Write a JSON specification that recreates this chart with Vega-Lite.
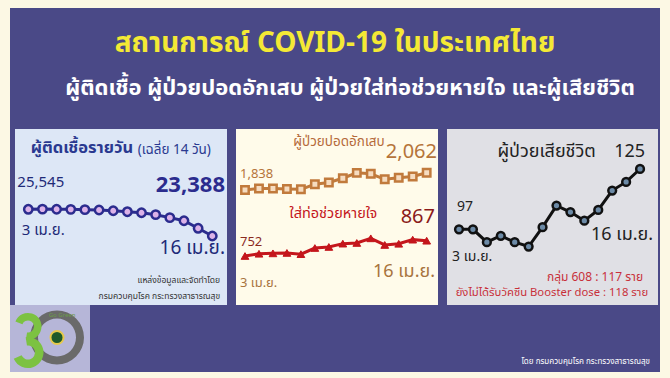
{
  "$schema": "https://vega.github.io/schema/vega-lite/v6.json",
  "background": "#fcf8e4",
  "padding": {"left": 10, "right": 10, "top": 8, "bottom": 6},
  "spacing": 0,
  "config": {
    "view": {"stroke": null},
    "axis": {"disable": true},
    "font": "Noto Sans Thai, Noto Sans, sans-serif"
  },
  "datasets": {
    "infect": [
      {"d": 3, "date": "3 เม.ย.", "v": 25545},
      {"d": 4, "date": "4 เม.ย.", "v": 25560},
      {"d": 5, "date": "5 เม.ย.", "v": 25548},
      {"d": 6, "date": "6 เม.ย.", "v": 25540},
      {"d": 7, "date": "7 เม.ย.", "v": 25515},
      {"d": 8, "date": "8 เม.ย.", "v": 25490},
      {"d": 9, "date": "9 เม.ย.", "v": 25430},
      {"d": 10, "date": "10 เม.ย.", "v": 25350},
      {"d": 11, "date": "11 เม.ย.", "v": 25265},
      {"d": 12, "date": "12 เม.ย.", "v": 25110},
      {"d": 13, "date": "13 เม.ย.", "v": 24870},
      {"d": 14, "date": "14 เม.ย.", "v": 24620},
      {"d": 15, "date": "15 เม.ย.", "v": 24010},
      {"d": 16, "date": "16 เม.ย.", "v": 23388}
    ],
    "hosp": [
      {"d": 3, "date": "3 เม.ย.", "p": 1838, "i": 752},
      {"d": 4, "date": "4 เม.ย.", "p": 1857, "i": 769},
      {"d": 5, "date": "5 เม.ย.", "p": 1857, "i": 772},
      {"d": 6, "date": "6 เม.ย.", "p": 1851, "i": 775},
      {"d": 7, "date": "7 เม.ย.", "p": 1847, "i": 766},
      {"d": 8, "date": "8 เม.ย.", "p": 1912, "i": 812},
      {"d": 9, "date": "9 เม.ย.", "p": 1936, "i": 820},
      {"d": 10, "date": "10 เม.ย.", "p": 1990, "i": 845},
      {"d": 11, "date": "11 เม.ย.", "p": 2060, "i": 850},
      {"d": 12, "date": "12 เม.ย.", "p": 2048, "i": 885},
      {"d": 13, "date": "13 เม.ย.", "p": 1977, "i": 835},
      {"d": 14, "date": "14 เม.ย.", "p": 1997, "i": 844},
      {"d": 15, "date": "15 เม.ย.", "p": 2013, "i": 875},
      {"d": 16, "date": "16 เม.ย.", "p": 2062, "i": 867}
    ],
    "death": [
      {"d": 3, "date": "3 เม.ย.", "v": 97},
      {"d": 4, "date": "4 เม.ย.", "v": 97},
      {"d": 5, "date": "5 เม.ย.", "v": 91},
      {"d": 6, "date": "6 เม.ย.", "v": 94},
      {"d": 7, "date": "7 เม.ย.", "v": 91},
      {"d": 8, "date": "8 เม.ย.", "v": 89},
      {"d": 9, "date": "9 เม.ย.", "v": 98},
      {"d": 10, "date": "10 เม.ย.", "v": 108},
      {"d": 11, "date": "11 เม.ย.", "v": 105},
      {"d": 12, "date": "12 เม.ย.", "v": 101},
      {"d": 13, "date": "13 เม.ย.", "v": 106},
      {"d": 14, "date": "14 เม.ย.", "v": 115},
      {"d": 15, "date": "15 เม.ย.", "v": 119},
      {"d": 16, "date": "16 เม.ย.", "v": 125}
    ]
  },
  "vconcat": [
    {
      "width": 650,
      "height": 121,
      "view": {"fill": "#4a4987", "stroke": null},
      "data": {"values": [
        {"k": "t", "label": "สถานการณ์ COVID-19 ในประเทศไทย"},
        {"k": "s", "label": "ผู้ติดเชื้อ ผู้ป่วยปอดอักเสบ ผู้ป่วยใส่ท่อช่วยหายใจ และผู้เสียชีวิต"}
      ]},
      "layer": [
        {
          "transform": [{"filter": "datum.k == 't'"}],
          "mark": {"type": "text", "fontSize": 28, "fontWeight": "bold", "fill": "#f4e935", "baseline": "middle", "align": "center", "dy": -3},
          "encoding": {
            "y": {"field": "k", "type": "nominal", "scale": {"type": "point", "domain": ["t", "s"], "padding": 0.9}},
            "text": {"field": "label"}
          }
        },
        {
          "transform": [{"filter": "datum.k == 's'"}],
          "mark": {"type": "text", "fontSize": 22, "fontWeight": "bold", "fill": "#ffffff", "baseline": "middle", "align": "center", "dy": -2, "dx": 15},
          "encoding": {
            "y": {"field": "k", "type": "nominal", "scale": {"type": "point", "domain": ["t", "s"], "padding": 0.9}},
            "text": {"field": "label"}
          }
        }
      ]
    },
    {
      "spacing": 0,
      "bounds": "flush",
      "hconcat": [
        {
          "width": 5, "height": 176,
          "view": {"fill": "#4a4987", "stroke": null},
          "data": {"values": [{}]},
          "mark": {"type": "rect", "opacity": 0},
          "encoding": {}
        },
        {
          "width": 212, "height": 176,
          "view": {"fill": "#dde7f6", "stroke": null},
          "data": {"name": "infect"},
          "layer": [
            {
              "mark": {"type": "line", "color": "#2b2c8e", "strokeWidth": 3},
              "encoding": {
                "x": {"field": "d", "type": "quantitative", "scale": {"domain": [2.06, 17.04], "nice": false, "zero": false}},
                "y": {"field": "v", "type": "quantitative", "scale": {"domain": [17812, 32033], "nice": false, "zero": false}}
              }
            },
            {
              "mark": {"type": "point", "shape": "circle", "filled": true, "fill": "#dcb2e8", "stroke": "#2b2c8e", "strokeWidth": 2.5, "size": 70, "opacity": 1},
              "encoding": {
                "x": {"field": "d", "type": "quantitative", "scale": {"domain": [2.06, 17.04], "nice": false, "zero": false}},
                "y": {"field": "v", "type": "quantitative", "scale": {"domain": [17812, 32033], "nice": false, "zero": false}}
              }
            },
            {
              "transform": [{"filter": "datum.d == 3"}],
              "mark": {"type": "text", "align": "left", "baseline": "middle", "dx": -11, "dy": -27, "fontSize": 15, "fill": "#1e2a78"},
              "encoding": {
                "x": {"field": "d", "type": "quantitative", "scale": {"domain": [2.06, 17.04], "nice": false, "zero": false}},
                "y": {"field": "v", "type": "quantitative", "scale": {"domain": [17812, 32033], "nice": false, "zero": false}},
                "text": {"field": "v", "type": "quantitative", "format": ","}
              }
            },
            {
              "transform": [{"filter": "datum.d == 16"}],
              "mark": {"type": "text", "align": "right", "baseline": "middle", "dx": 12.7, "dy": -51, "fontSize": 22, "fontWeight": "bold", "fill": "#2b2c8e"},
              "encoding": {
                "x": {"field": "d", "type": "quantitative", "scale": {"domain": [2.06, 17.04], "nice": false, "zero": false}},
                "y": {"field": "v", "type": "quantitative", "scale": {"domain": [17812, 32033], "nice": false, "zero": false}},
                "text": {"field": "v", "type": "quantitative", "format": ","}
              }
            },
            {
              "transform": [{"filter": "datum.d == 3"}],
              "mark": {"type": "text", "align": "left", "baseline": "middle", "dx": -6.6, "dy": 20.7, "fontSize": 15, "fill": "#1e2a78"},
              "encoding": {
                "x": {"field": "d", "type": "quantitative", "scale": {"domain": [2.06, 17.04], "nice": false, "zero": false}},
                "y": {"field": "v", "type": "quantitative", "scale": {"domain": [17812, 32033], "nice": false, "zero": false}},
                "text": {"field": "date"}
              }
            },
            {
              "transform": [{"filter": "datum.d == 16"}],
              "mark": {"type": "text", "align": "right", "baseline": "middle", "dx": 12.7, "dy": 12, "fontSize": 19, "fill": "#1e2a78"},
              "encoding": {
                "x": {"field": "d", "type": "quantitative", "scale": {"domain": [2.06, 17.04], "nice": false, "zero": false}},
                "y": {"field": "v", "type": "quantitative", "scale": {"domain": [17812, 32033], "nice": false, "zero": false}},
                "text": {"field": "date"}
              }
            },
            {
              "data": {"values": [{"label": "ผู้ติดเชื้อรายวัน"}]},
              "mark": {"type": "text", "align": "left", "baseline": "middle", "fontSize": 16.5, "fontWeight": "bold", "fill": "#2a3990"},
              "encoding": {
                "x": {"datum": 3.17, "type": "quantitative", "scale": {"domain": [2.06, 17.04], "nice": false, "zero": false}},
                "y": {"datum": 30498, "type": "quantitative", "scale": {"domain": [17812, 32033], "nice": false, "zero": false}},
                "text": {"field": "label"}
              }
            },
            {
              "data": {"values": [{"label": "(เฉลี่ย 14 วัน)"}]},
              "mark": {"type": "text", "align": "left", "baseline": "middle", "fontSize": 13.5, "fill": "#2a3990"},
              "encoding": {
                "x": {"datum": 10.73, "type": "quantitative", "scale": {"domain": [2.06, 17.04], "nice": false, "zero": false}},
                "y": {"datum": 30340, "type": "quantitative", "scale": {"domain": [17812, 32033], "nice": false, "zero": false}},
                "text": {"field": "label"}
              }
            },
            {
              "data": {"values": [{"label": "แหล่งข้อมูลและจัดทำโดย"}]},
              "mark": {"type": "text", "align": "right", "baseline": "middle", "fontSize": 8.5, "fill": "#333333"},
              "encoding": {
                "x": {"datum": 16.55, "type": "quantitative", "scale": {"domain": [2.06, 17.04], "nice": false, "zero": false}},
                "y": {"datum": 19832, "type": "quantitative", "scale": {"domain": [17812, 32033], "nice": false, "zero": false}},
                "text": {"field": "label"}
              }
            },
            {
              "data": {"values": [{"label": "กรมควบคุมโรค กระทรวงสาธารณสุข"}]},
              "mark": {"type": "text", "align": "right", "baseline": "middle", "fontSize": 8.5, "fill": "#333333"},
              "encoding": {
                "x": {"datum": 16.55, "type": "quantitative", "scale": {"domain": [2.06, 17.04], "nice": false, "zero": false}},
                "y": {"datum": 18539, "type": "quantitative", "scale": {"domain": [17812, 32033], "nice": false, "zero": false}},
                "text": {"field": "label"}
              }
            }
          ]
        },
        {
          "width": 9, "height": 176,
          "view": {"fill": "#4a4987", "stroke": null},
          "data": {"values": [{}]},
          "mark": {"type": "rect", "opacity": 0},
          "encoding": {}
        },
        {
          "width": 202, "height": 176,
          "view": {"fill": "#fffbea", "stroke": null},
          "data": {"name": "hosp"},
          "resolve": {"scale": {"y": "independent"}},
          "layer": [
            {
              "mark": {"type": "line", "color": "#c17a3c", "strokeWidth": 3},
              "encoding": {
                "x": {"field": "d", "type": "quantitative", "scale": {"domain": [2.356, 16.81], "nice": false, "zero": false}},
                "y": {"field": "p", "type": "quantitative", "scale": {"domain": [349, 2628], "nice": false, "zero": false}}
              }
            },
            {
              "mark": {"type": "point", "shape": "square", "filled": true, "fill": "#f6dcc0", "stroke": "#c17a3c", "strokeWidth": 2.5, "size": 55, "opacity": 1},
              "encoding": {
                "x": {"field": "d", "type": "quantitative", "scale": {"domain": [2.356, 16.81], "nice": false, "zero": false}},
                "y": {"field": "p", "type": "quantitative", "scale": {"domain": [349, 2628], "nice": false, "zero": false}}
              }
            },
            {
              "mark": {"type": "line", "color": "#c4161c", "strokeWidth": 3},
              "encoding": {
                "x": {"field": "d", "type": "quantitative", "scale": {"domain": [2.356, 16.81], "nice": false, "zero": false}},
                "y": {"field": "i", "type": "quantitative", "scale": {"domain": [383.5, 1707], "nice": false, "zero": false}}
              }
            },
            {
              "mark": {"type": "point", "shape": "triangle-up", "filled": true, "fill": "#c4161c", "stroke": "#c4161c", "strokeWidth": 1, "size": 60, "opacity": 1},
              "encoding": {
                "x": {"field": "d", "type": "quantitative", "scale": {"domain": [2.356, 16.81], "nice": false, "zero": false}},
                "y": {"field": "i", "type": "quantitative", "scale": {"domain": [383.5, 1707], "nice": false, "zero": false}}
              }
            },
            {
              "transform": [{"filter": "datum.d == 3"}],
              "mark": {"type": "text", "align": "left", "baseline": "middle", "dx": -5, "dy": -16, "fontSize": 13, "fill": "#b5743a"},
              "encoding": {
                "x": {"field": "d", "type": "quantitative", "scale": {"domain": [2.356, 16.81], "nice": false, "zero": false}},
                "y": {"field": "p", "type": "quantitative", "scale": {"domain": [349, 2628], "nice": false, "zero": false}},
                "text": {"field": "p", "type": "quantitative", "format": ","}
              }
            },
            {
              "transform": [{"filter": "datum.d == 16"}],
              "mark": {"type": "text", "align": "right", "baseline": "middle", "dx": 10.3, "dy": -21, "fontSize": 20, "fill": "#b5743a"},
              "encoding": {
                "x": {"field": "d", "type": "quantitative", "scale": {"domain": [2.356, 16.81], "nice": false, "zero": false}},
                "y": {"field": "p", "type": "quantitative", "scale": {"domain": [349, 2628], "nice": false, "zero": false}},
                "text": {"field": "p", "type": "quantitative", "format": ","}
              }
            },
            {
              "transform": [{"filter": "datum.d == 3"}],
              "mark": {"type": "text", "align": "left", "baseline": "middle", "dx": -5, "dy": -14.3, "fontSize": 13, "fill": "#8b2a1e"},
              "encoding": {
                "x": {"field": "d", "type": "quantitative", "scale": {"domain": [2.356, 16.81], "nice": false, "zero": false}},
                "y": {"field": "i", "type": "quantitative", "scale": {"domain": [383.5, 1707], "nice": false, "zero": false}},
                "text": {"field": "i", "type": "quantitative", "format": ","}
              }
            },
            {
              "transform": [{"filter": "datum.d == 16"}],
              "mark": {"type": "text", "align": "right", "baseline": "middle", "dx": 8.3, "dy": -24, "fontSize": 20, "fill": "#8b1a1a"},
              "encoding": {
                "x": {"field": "d", "type": "quantitative", "scale": {"domain": [2.356, 16.81], "nice": false, "zero": false}},
                "y": {"field": "i", "type": "quantitative", "scale": {"domain": [383.5, 1707], "nice": false, "zero": false}},
                "text": {"field": "i", "type": "quantitative", "format": ","}
              }
            },
            {
              "transform": [{"filter": "datum.d == 3"}],
              "mark": {"type": "text", "align": "left", "baseline": "middle", "dx": -5, "dy": 27, "fontSize": 13, "fill": "#a8743e"},
              "encoding": {
                "x": {"field": "d", "type": "quantitative", "scale": {"domain": [2.356, 16.81], "nice": false, "zero": false}},
                "y": {"field": "i", "type": "quantitative", "scale": {"domain": [383.5, 1707], "nice": false, "zero": false}},
                "text": {"field": "date"}
              }
            },
            {
              "transform": [{"filter": "datum.d == 16"}],
              "mark": {"type": "text", "align": "right", "baseline": "middle", "dx": 8.3, "dy": 31, "fontSize": 18, "fill": "#a8743e"},
              "encoding": {
                "x": {"field": "d", "type": "quantitative", "scale": {"domain": [2.356, 16.81], "nice": false, "zero": false}},
                "y": {"field": "i", "type": "quantitative", "scale": {"domain": [383.5, 1707], "nice": false, "zero": false}},
                "text": {"field": "date"}
              }
            },
            {
              "data": {"values": [{"label": "ผู้ป่วยปอดอักเสบ"}]},
              "mark": {"type": "text", "align": "center", "baseline": "middle", "fontSize": 13.5, "fill": "#b56a3a"},
              "encoding": {
                "x": {"datum": 9.72, "type": "quantitative", "scale": {"domain": [2.356, 16.81], "nice": false, "zero": false}},
                "y": {"datum": 2460, "type": "quantitative", "scale": {"domain": [349, 2628], "nice": false, "zero": false}},
                "text": {"field": "label"}
              }
            },
            {
              "data": {"values": [{"label": "ใส่ท่อช่วยหายใจ"}]},
              "mark": {"type": "text", "align": "center", "baseline": "middle", "fontSize": 14.5, "fill": "#c4161c"},
              "encoding": {
                "x": {"datum": 9.33, "type": "quantitative", "scale": {"domain": [2.356, 16.81], "nice": false, "zero": false}},
                "y": {"datum": 1068, "type": "quantitative", "scale": {"domain": [383.5, 1707], "nice": false, "zero": false}},
                "text": {"field": "label"}
              }
            }
          ]
        },
        {
          "width": 9, "height": 176,
          "view": {"fill": "#4a4987", "stroke": null},
          "data": {"values": [{}]},
          "mark": {"type": "rect", "opacity": 0},
          "encoding": {}
        },
        {
          "width": 211, "height": 176,
          "view": {"fill": "#e0e0e5", "stroke": null},
          "data": {"name": "death"},
          "layer": [
            {
              "mark": {"type": "line", "color": "#111111", "strokeWidth": 3},
              "encoding": {
                "x": {"field": "d", "type": "quantitative", "scale": {"domain": [2.138, 17.29], "nice": false, "zero": false}},
                "y": {"field": "v", "type": "quantitative", "scale": {"domain": [61.85, 143.57], "nice": false, "zero": false}}
              }
            },
            {
              "mark": {"type": "point", "shape": "circle", "filled": true, "fill": "#6c8aa6", "stroke": "#111111", "strokeWidth": 2.5, "size": 60, "opacity": 1},
              "encoding": {
                "x": {"field": "d", "type": "quantitative", "scale": {"domain": [2.138, 17.29], "nice": false, "zero": false}},
                "y": {"field": "v", "type": "quantitative", "scale": {"domain": [61.85, 143.57], "nice": false, "zero": false}}
              }
            },
            {
              "transform": [{"filter": "datum.d == 3"}],
              "mark": {"type": "text", "align": "left", "baseline": "middle", "dx": -2, "dy": -22.3, "fontSize": 14, "fill": "#222222"},
              "encoding": {
                "x": {"field": "d", "type": "quantitative", "scale": {"domain": [2.138, 17.29], "nice": false, "zero": false}},
                "y": {"field": "v", "type": "quantitative", "scale": {"domain": [61.85, 143.57], "nice": false, "zero": false}},
                "text": {"field": "v", "type": "quantitative"}
              }
            },
            {
              "transform": [{"filter": "datum.d == 16"}],
              "mark": {"type": "text", "align": "right", "baseline": "middle", "dx": 5, "dy": -17.3, "fontSize": 18, "fill": "#222222"},
              "encoding": {
                "x": {"field": "d", "type": "quantitative", "scale": {"domain": [2.138, 17.29], "nice": false, "zero": false}},
                "y": {"field": "v", "type": "quantitative", "scale": {"domain": [61.85, 143.57], "nice": false, "zero": false}},
                "text": {"field": "v", "type": "quantitative"}
              }
            },
            {
              "transform": [{"filter": "datum.d == 3"}],
              "mark": {"type": "text", "align": "left", "baseline": "middle", "dx": -7, "dy": 27.4, "fontSize": 14, "fill": "#222222"},
              "encoding": {
                "x": {"field": "d", "type": "quantitative", "scale": {"domain": [2.138, 17.29], "nice": false, "zero": false}},
                "y": {"field": "v", "type": "quantitative", "scale": {"domain": [61.85, 143.57], "nice": false, "zero": false}},
                "text": {"field": "date"}
              }
            },
            {
              "transform": [{"filter": "datum.d == 16"}],
              "mark": {"type": "text", "align": "right", "baseline": "middle", "dx": 13, "dy": 66, "fontSize": 18, "fill": "#222222"},
              "encoding": {
                "x": {"field": "d", "type": "quantitative", "scale": {"domain": [2.138, 17.29], "nice": false, "zero": false}},
                "y": {"field": "v", "type": "quantitative", "scale": {"domain": [61.85, 143.57], "nice": false, "zero": false}},
                "text": {"field": "date"}
              }
            },
            {
              "data": {"values": [{"label": "ผู้ป่วยเสียชีวิต"}]},
              "mark": {"type": "text", "align": "center", "baseline": "middle", "fontSize": 18, "fill": "#222222"},
              "encoding": {
                "x": {"datum": 9.29, "type": "quantitative", "scale": {"domain": [2.138, 17.29], "nice": false, "zero": false}},
                "y": {"datum": 133.03, "type": "quantitative", "scale": {"domain": [61.85, 143.57], "nice": false, "zero": false}},
                "text": {"field": "label"}
              }
            },
            {
              "data": {"values": [{"label": "กลุ่ม 608 : 117 ราย"}]},
              "mark": {"type": "text", "align": "right", "baseline": "middle", "fontSize": 12, "fill": "#c8303a"},
              "encoding": {
                "x": {"datum": 16.22, "type": "quantitative", "scale": {"domain": [2.138, 17.29], "nice": false, "zero": false}},
                "y": {"datum": 74.99, "type": "quantitative", "scale": {"domain": [61.85, 143.57], "nice": false, "zero": false}},
                "text": {"field": "label"}
              }
            },
            {
              "data": {"values": [{"label": "ยังไม่ได้รับวัคซีน Booster dose : 118 ราย"}]},
              "mark": {"type": "text", "align": "right", "baseline": "middle", "fontSize": 11.3, "fill": "#c8303a"},
              "encoding": {
                "x": {"datum": 16.58, "type": "quantitative", "scale": {"domain": [2.138, 17.29], "nice": false, "zero": false}},
                "y": {"datum": 67.42, "type": "quantitative", "scale": {"domain": [61.85, 143.57], "nice": false, "zero": false}},
                "text": {"field": "label"}
              }
            }
          ]
        },
        {
          "width": 2, "height": 176,
          "view": {"fill": "#4a4987", "stroke": null},
          "data": {"values": [{}]},
          "mark": {"type": "rect", "opacity": 0},
          "encoding": {}
        }
      ]
    },
    {
      "spacing": 0,
      "bounds": "flush",
      "hconcat": [
        {
          "width": 80, "height": 67,
          "view": {"fill": "#b6b6d8", "stroke": null},
          "data": {"values": [{"v": 1}]},
          "layer": [
            {
              "mark": {"type": "arc", "innerRadius": 19, "outerRadius": 27, "fill": "#6a6a6a", "xOffset": 7, "yOffset": -1},
              "encoding": {"theta": {"field": "v", "type": "quantitative"}}
            },
            {
              "mark": {"type": "arc", "theta": -1.2, "theta2": 3.3, "innerRadius": 6, "outerRadius": 13.5, "fill": "#7cc242", "xOffset": -22, "yOffset": -12},
              "encoding": {}
            },
            {
              "mark": {"type": "arc", "theta": -0.15, "theta2": 4.3, "innerRadius": 7, "outerRadius": 15.5, "fill": "#7cc242", "xOffset": -22, "yOffset": 14},
              "encoding": {}
            },
            {
              "mark": {"type": "point", "shape": "circle", "filled": true, "size": 170, "fill": "#1e5a2a", "stroke": "#e6c94a", "strokeWidth": 2, "opacity": 1, "xOffset": 7, "yOffset": -1},
              "encoding": {}
            },
            {
              "mark": {"type": "text", "text": "Go Green", "fontSize": 6, "fill": "#6a9a4a", "dx": 12, "dy": -24, "align": "center", "baseline": "middle"},
              "encoding": {}
            }
          ]
        },
        {
          "width": 570, "height": 67,
          "view": {"fill": "#4a4987", "stroke": null},
          "data": {"values": [{"label": "โดย กรมควบคุมโรค กระทรวงสาธารณสุข"}]},
          "mark": {"type": "text", "align": "right", "baseline": "middle", "fontSize": 8, "fill": "#ffffff", "dx": -10, "dy": -10},
          "encoding": {
            "x": {"datum": 1, "type": "quantitative", "scale": {"domain": [0, 1], "nice": false}},
            "y": {"datum": 0, "type": "quantitative", "scale": {"domain": [0, 1], "nice": false}},
            "text": {"field": "label"}
          }
        }
      ]
    }
  ]
}
